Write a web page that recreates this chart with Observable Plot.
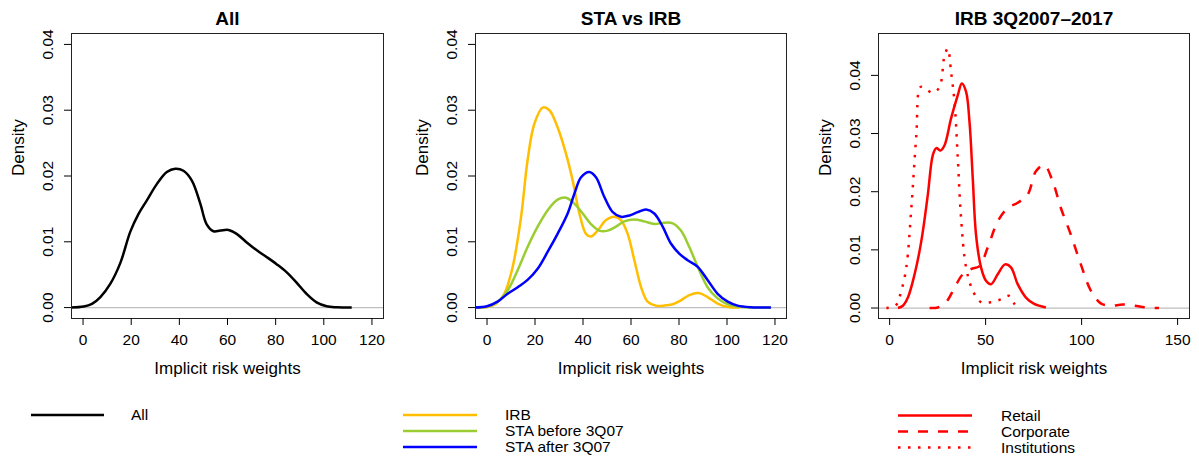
<!DOCTYPE html>
<html>
<head>
<meta charset="utf-8">
<script src="https://cdn.jsdelivr.net/npm/d3@7"></script>
<script src="https://cdn.jsdelivr.net/npm/@observablehq/plot@0.6"></script>
<style>
  html, body { margin: 0; padding: 0; background: #fff; }
  #wrap { position: relative; width: 1199px; height: 457px; overflow: hidden; font-family: "Liberation Sans", Arial, Helvetica, sans-serif; }
  .panel { position: absolute; top: 0; }
  #legend { position: absolute; left: 0; top: 390px; }
</style>
</head>
<body>
<div id="wrap"></div>
<script>
// ---------- data ----------
const panelTitles = ["All", "STA vs IRB", "IRB 3Q2007\u20132017"];
const xLabel = "Implicit risk weights";
const yLabel = "Density";
const xTicks12 = [0, 20, 40, 60, 80, 100, 120];
const xTicks3 = [0, 50, 100, 150];
const yTicks = [0, 0.01, 0.02, 0.03, 0.04];

// Panel 1: All
const allX = [-5, 0.3, 3.7, 7.2, 11.3, 15.5, 19.6, 23, 26.5, 30.7, 34.8, 38.3, 41.7, 45.2, 48.7, 51.3, 54.2, 57, 60.4, 63.8, 68, 72.2, 76.2, 80.4, 84.5, 88.7, 92.8, 97, 101.2, 105.4, 111.6];
const allY = [0, 0.00015, 0.00056, 0.0016, 0.0036, 0.0068, 0.0115, 0.0142, 0.0163, 0.0188, 0.0206, 0.0211, 0.0208, 0.0193, 0.0158, 0.0127, 0.0116, 0.0117, 0.0118, 0.0112, 0.0099, 0.0087, 0.0077, 0.0066, 0.0054, 0.0038, 0.0021, 0.0008, 0.0002, 0.00005, 0];

// Panel 2: STA vs IRB
const irbX = [-5, 0, 3.75, 7.2, 10.7, 14.2, 16.9, 19.7, 23.2, 26, 29.4, 32.9, 35.7, 38.5, 41.25, 43.3, 46.1, 49.6, 53, 55.8, 58.6, 61.4, 64.2, 66.9, 70.4, 73.9, 77.4, 80.8, 84.3, 88.2, 91.9, 96.1, 100.3, 105.1];
const irbY = [0, 0.0001, 0.0006, 0.0021, 0.0062, 0.0138, 0.0224, 0.0279, 0.0304, 0.0300, 0.0274, 0.0234, 0.0193, 0.0143, 0.0112, 0.0108, 0.0117, 0.0133, 0.0138, 0.0133, 0.0112, 0.0072, 0.0031, 0.0009, 0.0003, 0.0003, 0.0005, 0.0011, 0.0019, 0.0022, 0.0016, 0.0006, 0.0001, 0];
const staBeforeX = [-5, 0, 4.4, 8.6, 12.8, 16.9, 21.1, 25.3, 29.4, 32.9, 36.4, 39.9, 43.3, 46.8, 50.3, 53.8, 57.2, 61.4, 65.6, 69.7, 73.9, 77.4, 80.8, 84.3, 87.8, 91.9, 96.1, 100.3, 105.8, 118.3];
const staBeforeY = [0, 0.00015, 0.0009, 0.0026, 0.0057, 0.0092, 0.0123, 0.0148, 0.0164, 0.0167, 0.0158, 0.0143, 0.0127, 0.0117, 0.0117, 0.0123, 0.0131, 0.0134, 0.0131, 0.0127, 0.0129, 0.0128, 0.0117, 0.0092, 0.0062, 0.0031, 0.0014, 0.0005, 0.0001, 0];
const staAfterX = [-5, 0, 4.4, 8.6, 12.8, 16.9, 21.1, 25.3, 29.4, 33.6, 36.4, 39.2, 42.6, 45.4, 48.9, 52.4, 55.8, 59.3, 62.8, 66.3, 69.7, 73.2, 76.7, 80.1, 83.6, 87.8, 91.9, 96.1, 100.3, 104.4, 110, 118.3];
const staAfterY = [0, 0.0002, 0.0009, 0.0021, 0.0031, 0.0042, 0.0059, 0.0085, 0.0112, 0.0143, 0.0173, 0.0198, 0.0206, 0.0198, 0.0168, 0.0145, 0.0138, 0.0140, 0.0145, 0.0149, 0.0143, 0.0123, 0.0097, 0.0082, 0.0072, 0.0062, 0.0042, 0.0021, 0.0009, 0.0003, 0.00005, 0];

// Panel 3: IRB 3Q2007-2017
const retailX = [4.3, 6.9, 9.5, 13, 16.5, 19.9, 22.5, 24.3, 26.5, 28.6, 32, 35.5, 37.6, 39.8, 41.6, 43.3, 45, 47.6, 50.2, 52.8, 56.3, 60.1, 63.2, 66.7, 71, 75.3, 81.4];
const retailY = [0, 0.0004, 0.0018, 0.0058, 0.0115, 0.0195, 0.0263, 0.0275, 0.0271, 0.0280, 0.0326, 0.0366, 0.0386, 0.0372, 0.0320, 0.0223, 0.0126, 0.0070, 0.0047, 0.0041, 0.0058, 0.0075, 0.0070, 0.0041, 0.0018, 0.0007, 0.0001];
const corporateX = [20.8, 25.1, 29.4, 33.8, 38.1, 42.4, 46.8, 51.1, 56.3, 61.5, 66.7, 71.9, 76.2, 80.5, 84.9, 89.2, 94.4, 99.6, 104.8, 110, 115.2, 121.3, 127.3, 134.2, 140.3];
const corporateY = [0, 0.0001, 0.0010, 0.0035, 0.0058, 0.0067, 0.0072, 0.0104, 0.0149, 0.0172, 0.0181, 0.0195, 0.0235, 0.0246, 0.0218, 0.0172, 0.0126, 0.0075, 0.0030, 0.0008, 0.0004, 0.0006, 0.0004, 0.0001, 0];
const institutionsX = [-1.7, 3.1, 6.1, 8.7, 11.3, 13.9, 16.1, 19.1, 22.5, 26, 28.6, 30.3, 32, 33.8, 35.5, 37.2, 39.8, 43.3, 47.6, 52.8, 58, 62.4, 65, 66.7];
const institutionsY = [0, 0.0004, 0.0030, 0.0070, 0.0172, 0.0297, 0.0380, 0.0376, 0.0370, 0.0380, 0.0434, 0.0446, 0.0406, 0.0354, 0.0258, 0.0155, 0.0070, 0.0030, 0.0010, 0.0010, 0.0015, 0.0021, 0.0007, 0];

// ---------- styling ----------
const FONT = '"Liberation Sans", Arial, Helvetica, sans-serif';
const series = [
  {panel: 0, name: "All", xs: allX, ys: allY, color: "#000000", dash: null},
  {panel: 1, name: "IRB", xs: irbX, ys: irbY, color: "#FFBE00", dash: null},
  {panel: 1, name: "STA before 3Q07", xs: staBeforeX, ys: staBeforeY, color: "#9ACD32", dash: null},
  {panel: 1, name: "STA after 3Q07", xs: staAfterX, ys: staAfterY, color: "#0000FF", dash: null},
  {panel: 2, name: "Retail", xs: retailX, ys: retailY, color: "#FF0000", dash: null},
  {panel: 2, name: "Corporate", xs: corporateX, ys: corporateY, color: "#FF0000", dash: "10,10"},
  {panel: 2, name: "Institutions", xs: institutionsX, ys: institutionsY, color: "#FF0000", dash: "2.5,7.5"}
];
const panels = [
  {left: 0, width: 400, mL: 71, mR: 17, xDom: [-4.8, 124.8], xTicks: xTicks12, yDom: [-0.00166, 0.04166]},
  {left: 400, width: 400, mL: 75, mR: 14, xDom: [-4.8, 124.8], xTicks: xTicks12, yDom: [-0.00166, 0.04166]},
  {left: 800, width: 399, mL: 78, mR: 10, xDom: [-5.8, 156.2], xTicks: xTicks3, yDom: [-0.0018, 0.0472]}
];

const wrap = document.getElementById("wrap");
panels.forEach((p, i) => {
  const lineMarks = series.filter(s => s.panel === i).map(s => {
    const rows = s.xs.map((x, k) => ({x, y: s.ys[k]}));
    return Plot.line(rows, {
      x: "x", y: "y", stroke: s.color, strokeWidth: 2.5,
      strokeDasharray: s.dash ?? undefined, strokeLinecap: "butt",
      curve: "catmull-rom", clip: true
    });
  });
  const chart = Plot.plot({
    width: p.width, height: 390,
    marginLeft: p.mL, marginRight: p.mR, marginTop: 33, marginBottom: 72,
    style: {fontFamily: FONT, fontSize: "15.5px", background: "transparent", color: "#000"},
    x: {domain: p.xDom, label: null},
    y: {domain: p.yDom, label: null},
    marks: [
      Plot.ruleY([0], {stroke: "#BEBEBE", strokeWidth: 1.2}),
      ...lineMarks,
      Plot.frame({stroke: "#222", strokeWidth: 1}),
      Plot.axisX({ticks: p.xTicks, tickSize: 7, tickPadding: 8, tickFormat: d3.format("d"), label: null, fontSize: 15.5}),
      Plot.axisY({ticks: yTicks, tickSize: 7, tickFormat: () => "", label: null}),
      Plot.text(yTicks, {y: d => d, text: d => d3.format(".2f")(d), frameAnchor: "left", dx: -23, rotate: -90, textAnchor: "middle", lineAnchor: "middle", fontSize: 15.5}),
      Plot.text([panelTitles[i]], {frameAnchor: "top", dy: -15, fontWeight: "bold", fontSize: 19, lineAnchor: "middle"}),
      Plot.text([xLabel], {frameAnchor: "bottom", dy: 50, fontSize: 17, lineAnchor: "middle"}),
      Plot.text([yLabel], {frameAnchor: "left", dx: -53, rotate: -90, fontSize: 17, lineAnchor: "middle"})
    ]
  });
  chart.classList.add("panel");
  chart.style.left = p.left + "px";
  wrap.appendChild(chart);
});

// ---------- legends ----------
const legendGroups = [
  {x1: 31, x2: 104, tx: 131, y0: 25, names: ["All"]},
  {x1: 403, x2: 477, tx: 505, y0: 25, names: ["IRB", "STA before 3Q07", "STA after 3Q07"]},
  {x1: 898, x2: 972, tx: 1001, y0: 25.5, names: ["Retail", "Corporate", "Institutions"]}
];
const ns = "http://www.w3.org/2000/svg";
const leg = document.createElementNS(ns, "svg");
leg.setAttribute("id", "legend");
leg.setAttribute("width", 1199);
leg.setAttribute("height", 67);
leg.style.fontFamily = FONT;
leg.style.fontSize = "15.5px";
legendGroups.forEach(g => {
  g.names.forEach((name, k) => {
    const s = series.find(d => d.name === name);
    const y = g.y0 + k * 16;
    const ln = document.createElementNS(ns, "line");
    ln.setAttribute("x1", g.x1); ln.setAttribute("x2", g.x2);
    ln.setAttribute("y1", y); ln.setAttribute("y2", y);
    ln.setAttribute("stroke", s.color); ln.setAttribute("stroke-width", 2.5);
    if (s.dash) ln.setAttribute("stroke-dasharray", s.dash);
    leg.appendChild(ln);
    const t = document.createElementNS(ns, "text");
    t.setAttribute("x", g.tx); t.setAttribute("y", y);
    t.setAttribute("dy", "0.35em");
    t.textContent = name;
    leg.appendChild(t);
  });
});
wrap.appendChild(leg);
</script>
</body>
</html>
